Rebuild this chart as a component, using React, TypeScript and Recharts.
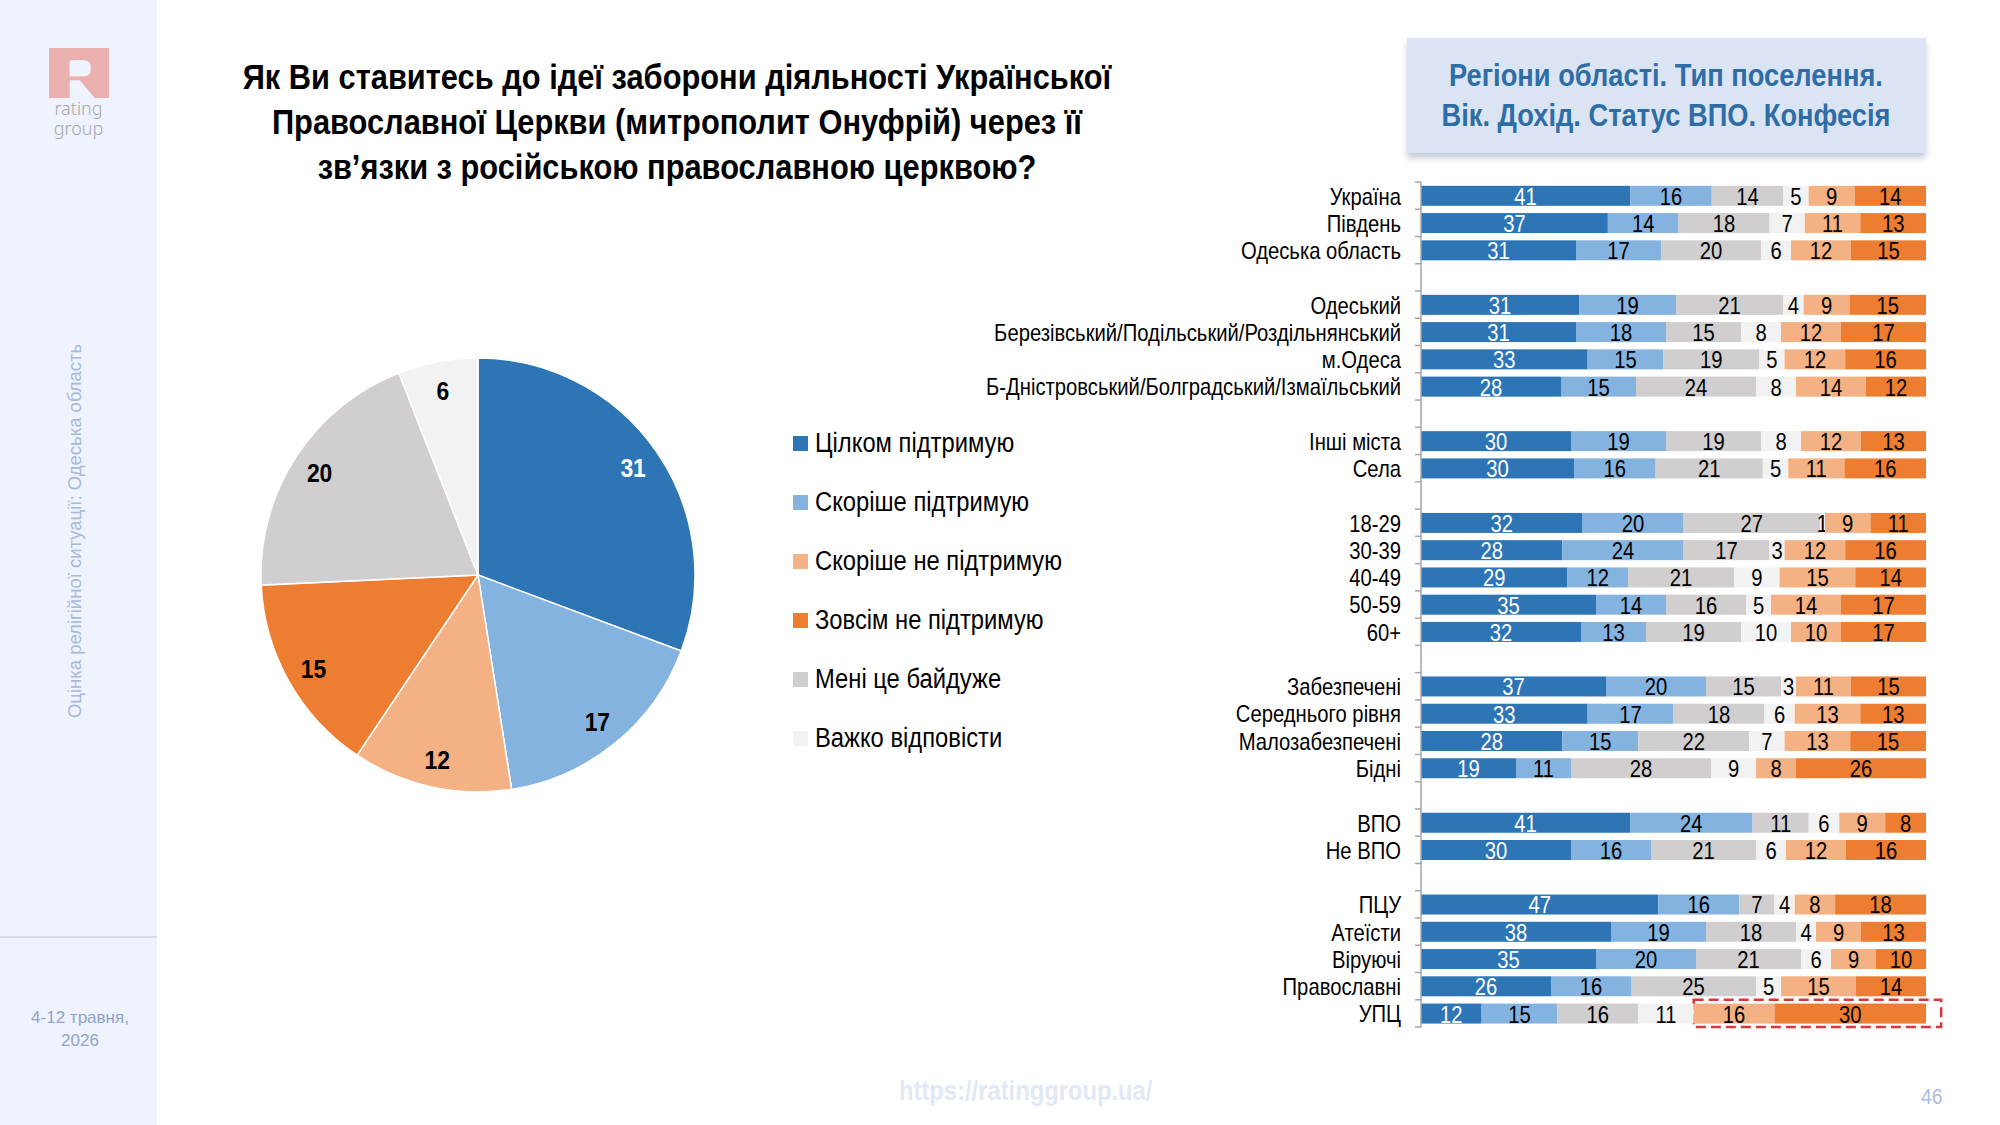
import React from "react";
import { Bar, BarChart, Cell, Pie, PieChart, ReferenceArea, XAxis, YAxis } from "recharts";

// no Arial Narrow installed: squeeze Liberation Sans horizontally instead
const SANS = "'Liberation Sans', Arial, sans-serif";
const SQUEEZE = 0.88;

// pie: whole Odesa oblast sample
const pieLabels = [
  "Цілком підтримую",
  "Скоріше підтримую",
  "Скоріше не підтримую",
  "Зовсім не підтримую",
  "Мені це байдуже",
  "Важко відповісти",
];
const pieValues = [31, 17, 12, 15, 20, 6];
const pieColors = ["#2e75b6", "#85b3e0", "#f4b183", "#ed7d31", "#d0cece", "#f2f2f2"];

// bar rows (empty strings are spacer rows)
const rowLabels = [
  "Україна", "Південь", "Одеська область", "",
  "Одеський", "Березівський/Подільський/Роздільнянський", "м.Одеса", "Б-Дністровський/Болградський/Ізмаїльський", "",
  "Інші міста", "Села", "",
  "18-29", "30-39", "40-49", "50-59", "60+", "",
  "Забезпечені", "Середнього рівня", "Малозабезпечені", "Бідні", "",
  "ВПО", "Не ВПО", "",
  "ПЦУ", "Атеїсти", "Віруючі", "Православні", "УПЦ",
];
const fullySupport = [41, 37, 31, null, 31, 31, 33, 28, null, 30, 30, null, 32, 28, 29, 35, 32, null, 37, 33, 28, 19, null, 41, 30, null, 47, 38, 35, 26, 12];
const ratherSupport = [16, 14, 17, null, 19, 18, 15, 15, null, 19, 16, null, 20, 24, 12, 14, 13, null, 20, 17, 15, 11, null, 24, 16, null, 16, 19, 20, 16, 15];
const indifferent = [14, 18, 20, null, 21, 15, 19, 24, null, 19, 21, null, 27, 17, 21, 16, 19, null, 15, 18, 22, 28, null, 11, 21, null, 7, 18, 21, 25, 16];
const hardToSay = [5, 7, 6, null, 4, 8, 5, 8, null, 8, 5, null, 1, 3, 9, 5, 10, null, 3, 6, 7, 9, null, 6, 6, null, 4, 4, 6, 5, 11];
const ratherNot = [9, 11, 12, null, 9, 12, 12, 14, null, 12, 11, null, 9, 12, 15, 14, 10, null, 11, 13, 13, 8, null, 9, 12, null, 8, 9, 9, 15, 16];
const notAtAll = [14, 13, 15, null, 15, 17, 16, 12, null, 13, 16, null, 11, 16, 14, 17, 17, null, 15, 13, 15, 26, null, 8, 16, null, 18, 13, 10, 14, 30];

const series = [
  { key: "fully", values: fullySupport, color: "#2e75b6", text: "#ffffff" },
  { key: "rather", values: ratherSupport, color: "#85b3e0", text: "#000000" },
  { key: "indifferent", values: indifferent, color: "#d0cece", text: "#000000" },
  { key: "hard", values: hardToSay, color: "#f2f2f2", text: "#000000" },
  { key: "ratherNot", values: ratherNot, color: "#f4b183", text: "#000000" },
  { key: "notAtAll", values: notAtAll, color: "#ed7d31", text: "#000000" },
];

const table = rowLabels.map((label, i) => {
  const row: Record<string, string | number | null> = { key: `r${i}`, label };
  series.forEach((s) => {
    row[s.key] = s.values[i];
  });
  return row;
});

// highlighted "not supporting" part of the УПЦ row
const upcIndex = rowLabels.indexOf("УПЦ");
const upcTotal = series.reduce((acc, s) => acc + (s.values[upcIndex] ?? 0), 0);
const upcBefore = series.slice(0, 4).reduce((acc, s) => acc + (s.values[upcIndex] ?? 0), 0);

const RADIAN = Math.PI / 180;

function SvgText(props: {
  x: number;
  y: number;
  anchor?: "start" | "middle" | "end";
  size: number;
  fill: string;
  bold?: boolean;
  children: React.ReactNode;
}) {
  return (
    <text
      transform={`translate(${props.x},${props.y}) scale(${SQUEEZE},1)`}
      textAnchor={props.anchor ?? "middle"}
      dominantBaseline="central"
      fontFamily={SANS}
      fontWeight={props.bold ? "bold" : "normal"}
      fontSize={props.size}
      fill={props.fill}
    >
      {props.children}
    </text>
  );
}

function renderPieLabel(props: any) {
  const { cx, cy, midAngle, outerRadius, index } = props;
  const r = outerRadius * 0.87;
  const x = cx + r * Math.cos(-midAngle * RADIAN);
  const y = cy + r * Math.sin(-midAngle * RADIAN);
  return (
    <SvgText x={x} y={y + 1} size={26} bold fill={index === 0 ? "#ffffff" : "#000000"}>
      {pieValues[index]}
    </SvgText>
  );
}

function segmentShape(seriesKey: string, textColor: string) {
  return (props: any) => {
    const { x, y, width, height, payload, fill } = props;
    const v = payload?.[seriesKey];
    if (v == null || !(width > 0)) return <g />;
    return (
      <g>
        <rect x={x} y={y} width={width} height={height} fill={fill} />
        <SvgText x={x + width / 2} y={y + height / 2 + 1} size={23} fill={textColor}>
          {v}
        </SvgText>
      </g>
    );
  };
}

function CategoryTick(props: any) {
  const { x, y, payload, index } = props;
  const half = payload?.offset ?? 13.6;
  const axisX = x + 20;
  const i = Number(String(payload.value).slice(1));
  return (
    <g>
      <line x1={axisX - 6} x2={axisX} y1={y - half} y2={y - half} stroke="#a6a6a6" strokeWidth={1.5} />
      {index === rowLabels.length - 1 && (
        <line x1={axisX - 6} x2={axisX} y1={y + half} y2={y + half} stroke="#a6a6a6" strokeWidth={1.5} />
      )}
      <SvgText x={x} y={y + 1} anchor="end" size={23} fill="#000">
        {rowLabels[i]}
      </SvgText>
    </g>
  );
}

function Squeezed(props: { style: React.CSSProperties; origin: string; children: React.ReactNode }) {
  return (
    <div
      style={{
        position: "absolute",
        whiteSpace: "nowrap",
        fontFamily: SANS,
        transform: `scaleX(${SQUEEZE})`,
        transformOrigin: props.origin,
        ...props.style,
      }}
    >
      {props.children}
    </div>
  );
}

function Logo() {
  return (
    <div style={{ position: "absolute", left: 0, top: 44, width: 157, textAlign: "center" }}>
      <svg width={60} height={50} viewBox="0 0 60 50" style={{ display: "block", margin: "4px auto 0" }}>
        <rect x={0} y={0} width={60} height={50} fill="#ebb1ae" />
        <rect x={20.7} y={12.3} width={21} height={16} rx={6} fill="#eff3fd" />
        <rect x={20.7} y={12.3} width={10} height={16} fill="#eff3fd" />
        <polygon points="20.7,32.3 30.7,32.3 45.7,50 20.7,50" fill="#eff3fd" />
      </svg>
      <div style={{ fontFamily: "'Noto Sans', sans-serif", fontWeight: 300, fontSize: 18, color: "#a8a8a8", lineHeight: "20px", marginTop: 0 }}>
        <div>rating</div>
        <div>group</div>
      </div>
    </div>
  );
}

export default function App() {
  return (
    <div style={{ position: "absolute", left: 0, top: 0, width: 2000, height: 1125, background: "#ffffff", overflow: "hidden" }}>
      {/* sidebar */}
      <div style={{ position: "absolute", left: 0, top: 0, width: 157, height: 1125, background: "#eff3fd" }} />
      <div style={{ position: "absolute", left: 0, top: 936, width: 157, height: 2, background: "#d6dcea" }} />
      <Logo />
      <div
        style={{
          position: "absolute",
          left: 75,
          top: 531,
          transform: "translate(-50%, -50%) rotate(-90deg)",
          whiteSpace: "nowrap",
          fontFamily: SANS,
          fontSize: 18.5,
          color: "#a7b9dd",
        }}
      >
        Оцінка релігійної ситуації: Одеська область
      </div>
      <div
        style={{
          position: "absolute",
          left: 0,
          top: 1006,
          width: 160,
          textAlign: "center",
          fontFamily: SANS,
          fontSize: 17,
          lineHeight: "23px",
          color: "#8fa4cd",
        }}
      >
        4-12 травня,
        <br />
        2026
      </div>

      {/* title */}
      <Squeezed
        origin="50% 0"
        style={{
          left: 77,
          top: 54,
          width: 1200,
          textAlign: "center",
          fontWeight: "bold",
          fontSize: 35,
          lineHeight: "45px",
          color: "#000",
        }}
      >
        Як Ви ставитесь до ідеї заборони діяльності Української
        <br />
        Православної Церкви (митрополит Онуфрій) через її
        <br />
        зв’язки з російською православною церквою?
      </Squeezed>

      {/* subgroup box */}
      <div
        style={{
          position: "absolute",
          left: 1407,
          top: 38,
          width: 519,
          height: 115,
          background: "#dae4f3",
          boxShadow: "0 5px 6px rgba(90,110,150,0.35)",
        }}
      />
      <Squeezed
        origin="50% 0"
        style={{
          left: 1366,
          top: 56,
          width: 600,
          textAlign: "center",
          fontWeight: "bold",
          fontSize: 31,
          lineHeight: "40px",
          color: "#2f6da6",
        }}
      >
        Регіони області. Тип поселення.
        <br />
        Вік. Дохід. Статус ВПО. Конфесія
      </Squeezed>

      {/* pie */}
      <div style={{ position: "absolute", left: 240, top: 340 }}>
        <PieChart width={480} height={470} margin={{ top: 0, right: 0, bottom: 0, left: 0 }}>
          <Pie
            data={pieLabels.map((name, i) => ({ name, value: pieValues[i] }))}
            dataKey="value"
            nameKey="name"
            cx={238}
            cy={235}
            outerRadius={217}
            startAngle={90}
            endAngle={-270}
            stroke="#ffffff"
            strokeWidth={1.5}
            label={renderPieLabel}
            labelLine={false}
            isAnimationActive={false}
          >
            {pieValues.map((_, i) => (
              <Cell key={i} fill={pieColors[i]} />
            ))}
          </Pie>
        </PieChart>
      </div>

      {/* legend */}
      {pieLabels.map((name, i) => (
        <React.Fragment key={name}>
          <div style={{ position: "absolute", left: 793, top: 436 + i * 59, width: 15, height: 15, background: pieColors[i] }} />
          <Squeezed origin="0 0" style={{ left: 815, top: 427 + i * 59, fontSize: 27, lineHeight: "32px", color: "#000" }}>
            {name}
          </Squeezed>
        </React.Fragment>
      ))}

      {/* stacked bars */}
      <div style={{ position: "absolute", left: 960, top: 170 }}>
        <BarChart
          layout="vertical"
          data={table}
          width={1000}
          height={880}
          stackOffset="expand"
          barCategoryGap="14%"
          margin={{ top: 12, right: 34, bottom: 23, left: 0 }}
        >
          <XAxis type="number" domain={[0, 1]} hide />
          <YAxis
            type="category"
            dataKey="key"
            width={461}
            interval={0}
            tickLine={false}
            tickSize={0}
            tickMargin={20}
            axisLine={{ stroke: "#a6a6a6", strokeWidth: 1.5 }}
            tick={<CategoryTick />}
          />
          {series.map((s) => (
            <Bar
              key={s.key}
              dataKey={s.key}
              stackId="a"
              fill={s.color}
              shape={segmentShape(s.key, s.text)}
              isAnimationActive={false}
            />
          ))}
          <ReferenceArea
            x1={upcBefore / upcTotal}
            x2={1.03}
            y1={`r${upcIndex}`}
            y2={`r${upcIndex}`}
            ifOverflow="visible"
            fill="none"
            stroke="#d9363e"
            strokeWidth={2.5}
            strokeDasharray="10 5"
          />
        </BarChart>
      </div>

      {/* footer */}
      <Squeezed origin="0 0" style={{ left: 899, top: 1076, fontWeight: "bold", fontSize: 27, color: "#e2e8f5" }}>
        https://ratinggroup.ua/
      </Squeezed>
      <Squeezed origin="0 0" style={{ left: 1921, top: 1084, fontSize: 22, color: "#a9bcdc" }}>
        46
      </Squeezed>
    </div>
  );
}
